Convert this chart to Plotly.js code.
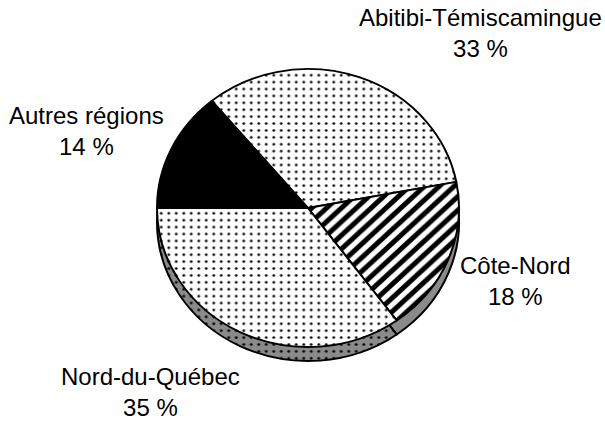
<!DOCTYPE html>
<html>
<head>
<meta charset="utf-8">
<script src="https://cdn.plot.ly/plotly-3.0.1.min.js"></script>
<style>html,body{margin:0;padding:0;background:#fff;}#chart{width:605px;height:422px;}</style>
</head>
<body>
<div id="chart"></div>
<script>
// Data
var regions = ["Abitibi-Témiscamingue", "Côte-Nord", "Nord-du-Québec", "Autres régions"];
var shares = [33, 18, 35, 14];

// Styles (per slice)
var topColors = ["#ffffff", "#ffffff", "#ffffff", "#000000"];
var topShapes = [".", "/", ".", ""];
var topSizes = [7.5, 10.5, 7.5, 7.5];
var topSolidity = [0.11, 0.5, 0.11, 0.11];
var sideColors = ["#8a8a8a", "#8a8a8a", "#8a8a8a", "#000000"];
var sideShapes = [".", "", ".", ""];

// Label placement (pixels from top-left)
var labelX = [480, 515, 150, 87];
var labelY = [33, 281, 392, 131];

var W = 605, H = 422;
var cx = 308, cy = 208, r = 151, tilt = 139 / 151, depth = 14 / (139 / 151);

function dom(cxp, cyp) {
  return {
    x: [(cxp - r) / W, (cxp + r) / W],
    y: [(H - cyp - r) / H, (H - cyp + r) / H]
  };
}

var side = {
  type: "pie",
  labels: regions,
  values: shares,
  sort: false,
  direction: "clockwise",
  rotation: -39.6,
  textinfo: "none",
  hoverinfo: "skip",
  showlegend: false,
  domain: dom(cx, cy + depth),
  marker: {
    colors: sideColors,
    line: {color: "#000", width: 2},
    pattern: {shape: sideShapes, size: 7.5, solidity: 0.12, fgcolor: "#000", fgopacity: 1, bgcolor: sideColors, fillmode: "overlay"}
  }
};

var topPie = {
  type: "pie",
  labels: regions,
  values: shares,
  sort: false,
  direction: "clockwise",
  rotation: -39.6,
  textinfo: "none",
  hoverinfo: "skip",
  showlegend: false,
  domain: dom(cx, cy),
  marker: {
    colors: topColors,
    line: {color: "#000", width: 2},
    pattern: {shape: topShapes, size: topSizes, solidity: topSolidity, fgcolor: "#000", fgopacity: 1, bgcolor: topColors, fillmode: "overlay"}
  }
};

var annotations = regions.map(function (name, i) {
  return {
    xref: "paper", yref: "paper",
    x: labelX[i] / W, y: (H - labelY[i]) / H,
    xanchor: "center", yanchor: "middle",
    text: name + "<br>" + shares[i] + " %",
    showarrow: false,
    align: "center",
    font: {family: "Liberation Sans, Arial, sans-serif", size: 24, color: "#000"}
  };
});

var layout = {
  width: W, height: H,
  margin: {l: 0, r: 0, t: 0, b: 0},
  paper_bgcolor: "#fff",
  plot_bgcolor: "#fff",
  showlegend: false,
  annotations: annotations
};

Plotly.newPlot("chart", [side, topPie], layout, {staticPlot: true, displayModeBar: false}).then(function (gd) {
  // tilt the pie into a perspective ellipse
  var layer = gd.querySelector(".pielayer");
  if (layer) {
    layer.setAttribute("transform", "translate(0," + (cy * (1 - tilt)) + ") scale(1," + tilt + ")");
  }
});
</script>
</body>
</html>
